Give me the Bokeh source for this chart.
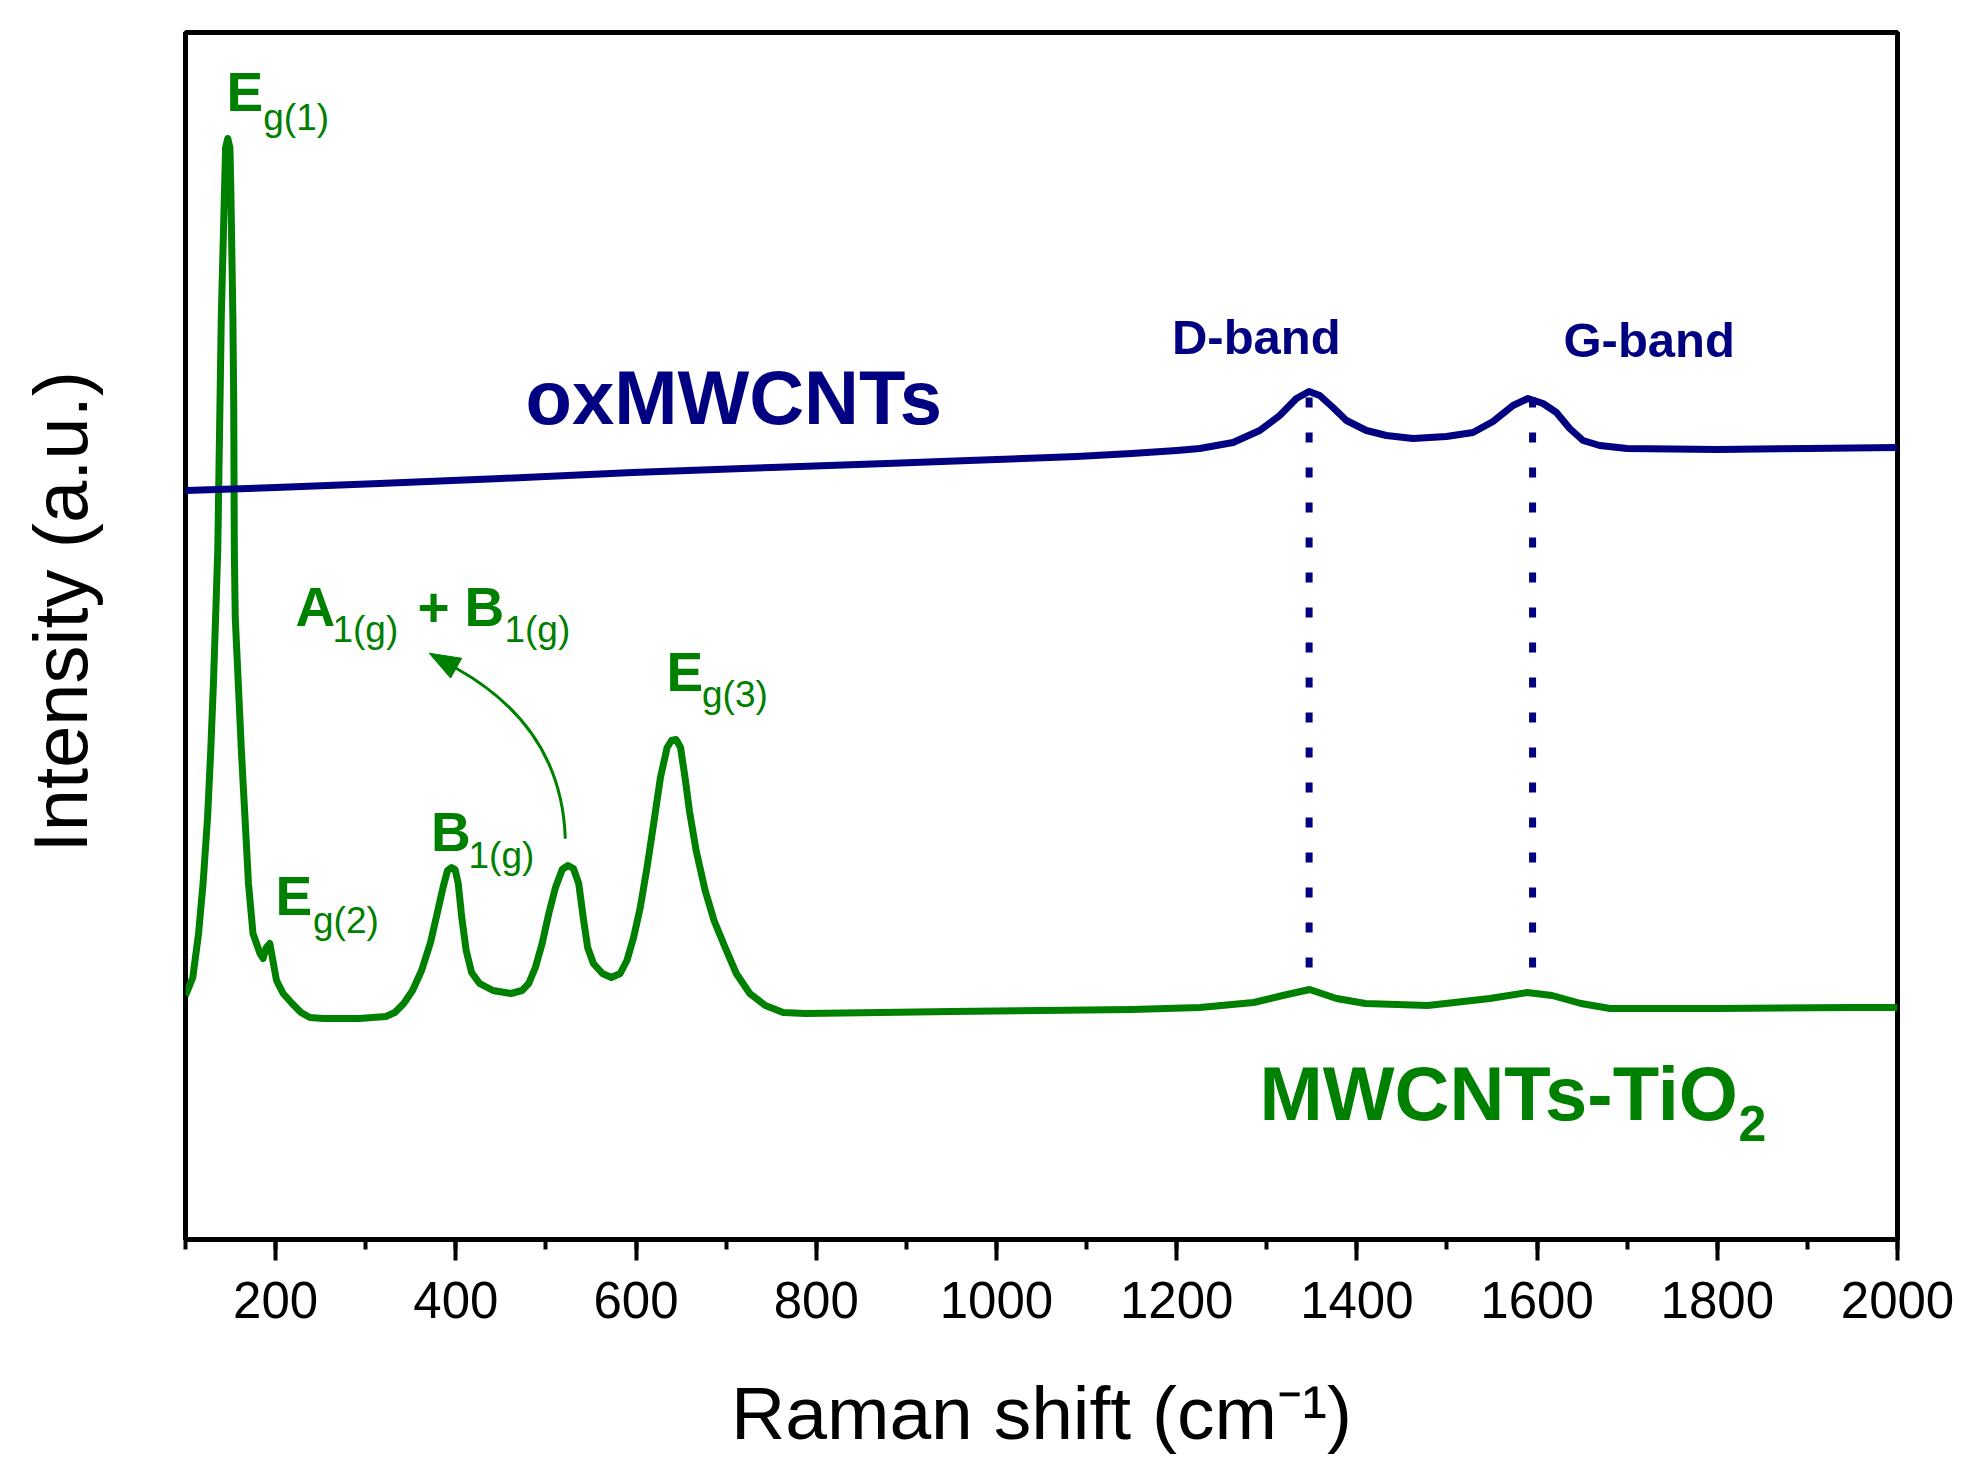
from bokeh.plotting import figure
from bokeh.models import Range1d, SingleIntervalTicker, FixedTicker
from bokeh.core.properties import value
from bokeh.embed import file_html
from bokeh.resources import INLINE

# ---------------- data ----------------
shift_tio2 = [100, 108.1, 114.5, 119.5, 124.5, 128, 131, 133.4, 135.8, 139.7, 143.5, 144.5,
              146.9, 149.3, 150.2, 152.6, 153.5, 154.2, 155.2, 158.6, 162, 166, 169.9,
              174.9, 182.7, 186.1, 189.6, 193.6, 197, 201, 208.4, 218.3, 228.2, 238.1,
              253, 292.7, 322.4, 332.3, 342.2, 352, 362, 371.9, 379.3, 385.8, 390.8,
              395.2, 399.2, 402.7, 406.6, 411.5, 417.5, 426.4, 441.3, 461.1, 473.5,
              480.9, 488.3, 495.8, 503.2, 510.6, 518.1, 524.5, 530.5, 536.4, 541.4,
              546.3, 552.7, 562.7, 572.6, 582.4, 589.9, 597.3, 604.7, 612.2, 619.6,
              627.1, 634.5, 639.4, 644.4, 649.4, 654.4, 659.2, 666.7, 676.7, 686.6,
              698.9, 711.3, 726.2, 743.5, 763.3, 788.1, 871.3, 950, 1050, 1150, 1225.6,
              1285.4, 1317.6, 1347.6, 1377.4, 1409.6, 1478.6, 1547.6, 1589, 1616.7,
              1648.8, 1681, 1800, 1946.8, 2000]
intensity_tio2 = [244, 262, 306, 356, 422, 489, 556, 622, 689, 922, 1056, 1092,
                  1101, 1092, 1056, 922, 839, 689, 622, 556, 489, 422, 356,
                  306, 286, 281, 292, 296, 279, 259, 246, 236, 227, 222,
                  221, 221, 223, 227, 236, 249, 269, 297, 326, 352, 369,
                  372, 370, 356, 322, 289, 267, 256, 249, 246, 249,
                  256, 272, 296, 326, 352, 370, 374, 371, 356, 322,
                  292, 276, 266, 262, 266, 279, 302, 332, 372, 416,
                  462, 492, 499, 500, 492, 462, 429, 389, 349, 319,
                  292, 266, 246, 234, 227, 226, 227, 228, 229, 230, 232,
                  237, 244, 250, 241, 236, 234, 241, 247, 244,
                  236, 231, 231, 232, 232]

shift_cnt = [100, 200, 315, 450, 596, 750, 878, 1000, 1089, 1150, 1200, 1225.6, 1262.6,
             1292.2, 1314.4, 1332.9, 1346.9, 1358.8, 1373.5, 1388.4, 1410.6, 1432.8,
             1462.3, 1499.4, 1528.9, 1551.1, 1573.3, 1589.9, 1606.6, 1621.5, 1636.2,
             1651, 1669.5, 1700, 1800, 1900, 2000]
intensity_cnt = [749, 752, 756, 761, 767, 772, 776, 780, 783, 786, 789, 791, 797,
                 809, 824, 841, 848, 844, 832, 819, 809, 804,
                 801, 803, 807, 818, 834, 841, 836, 827, 811,
                 799, 794, 791, 790, 791, 792]

band_positions = [1347, 1595]
band_top = [842, 842]
band_bottom = [268, 268]

# ---------------- annotation placement ----------------
GREEN = "#008000"
NAVY = "#000080"
FONT = "Liberation Sans"

mode_main = {"x": [145.5, 199.9, 372.5, 222.1, 409.6, 633.8],
             "y": [1148, 344, 408, 633, 633, 568],
             "text": ["E", "E", "B", "A", "B", "E"]}
mode_sub = {"x": [186.3, 241.5, 414.1, 263.1, 454, 673.2],
            "y": [1122, 319, 384, 610, 610, 545],
            "text": ["g(1)", "g(2)", "1(g)", "1(g)", "1(g)", "g(3)"]}
plus_sign = {"x": [357.5], "y": [633], "text": ["+"]}
arrow_curve = {"x0": [521.5], "y0": [400.7], "x1": [400.4], "y1": [571.3],
               "cx": [517.7], "cy": [512]}
arrow_head = {"x": [370.4, 394.2, 406.6], "y": [586.3, 561.4, 581.2]}

p = figure(frame_width=1712, frame_height=1207,
           x_range=Range1d(100, 2000), y_range=Range1d(0, 1207),
           output_backend="svg", toolbar_location=None,
           min_border_left=185, min_border_top=32, min_border_right=73,
           min_border_bottom=218)
p.background_fill_color = "white"
p.border_fill_color = "white"
p.outline_line_color = "black"
p.outline_line_width = 5
p.xgrid.visible = False
p.ygrid.visible = False

ax = p.xaxis[0]
ax.ticker = SingleIntervalTicker(interval=200, num_minor_ticks=2)
ax.axis_line_width = 5
ax.axis_line_color = "black"
ax.major_tick_line_width = 4
ax.major_tick_out = 21
ax.major_tick_in = 0
ax.minor_tick_line_width = 4
ax.minor_tick_out = 10
ax.minor_tick_in = 0
ax.major_label_text_font = FONT
ax.major_label_text_font_size = "51px"
ax.major_label_text_color = "black"
ax.major_label_standoff = 21
ax.axis_label = "Raman shift (cm\u207b\u00b9)"
ax.axis_label_text_font = FONT
ax.axis_label_text_font_size = "75px"
ax.axis_label_text_font_style = "normal"
ax.axis_label_text_color = "black"
ax.axis_label_standoff = 50

# y axis: no ticks, only the title (intensity in arbitrary units);
# the non-breaking spaces lift the centred title slightly, as in the original
ay = p.yaxis[0]
ay.ticker = FixedTicker(ticks=[])
ay.axis_line_color = None
ay.major_tick_out = 0
ay.major_tick_in = 0
ay.minor_tick_out = 0
ay.minor_tick_in = 0
ay.major_label_text_font_size = "0px"
ay.axis_label = "\u00a0\u00a0\u200aIntensity (a.u.)"
ay.axis_label_text_font = FONT
ay.axis_label_text_font_size = "76px"
ay.axis_label_text_font_style = "normal"
ay.axis_label_text_color = "black"
ay.axis_label_standoff = 83

# spectra
p.line(shift_tio2, intensity_tio2, line_color=GREEN, line_width=7, line_join="round")
p.line(shift_cnt, intensity_cnt, line_color=NAVY, line_width=7, line_join="round")

# dotted band markers
p.segment(x0=band_positions, y0=band_top, x1=band_positions, y1=band_bottom,
          line_color=NAVY, line_width=7, line_dash="10 25", line_cap="butt")

# mode labels
p.text(x=mode_main["x"], y=mode_main["y"], text=mode_main["text"], text_color=GREEN,
       text_font=value(FONT), text_font_size="55px", text_font_style="bold",
       text_align="left", text_baseline="alphabetic")
p.text(x=mode_sub["x"], y=mode_sub["y"], text=mode_sub["text"], text_color=GREEN,
       text_font=value(FONT), text_font_size="37px", text_font_style="normal",
       text_align="left", text_baseline="alphabetic")
p.text(x=plus_sign["x"], y=plus_sign["y"], text=plus_sign["text"], text_color=GREEN,
       text_font=value(FONT), text_font_size="55px", text_font_style="bold",
       text_align="left", text_baseline="alphabetic")

# sample labels
p.text(x=[477.3], y=[842], text=["oxMWCNTs"], text_color=NAVY,
       text_font=value(FONT), text_font_size="76px", text_font_style="bold",
       text_baseline="alphabetic")
p.text(x=[1291.9], y=[146.5], text=["MWCNTs-TiO"], text_color=GREEN,
       text_font=value(FONT), text_font_size="76px", text_font_style="bold",
       text_baseline="alphabetic")
p.text(x=[1823.6], y=[116], text=["2"], text_color=GREEN,
       text_font=value(FONT), text_font_size="50px", text_font_style="bold",
       text_baseline="alphabetic")
p.text(x=[1194.8, 1629.3], y=[902.5, 899.5], text=["D-band", "G-band"], text_color=NAVY,
       text_font=value(FONT), text_font_size="49px", text_font_style="bold",
       text_baseline="alphabetic")

# curved arrow
p.quadratic(x0=arrow_curve["x0"], y0=arrow_curve["y0"], x1=arrow_curve["x1"],
            y1=arrow_curve["y1"], cx=arrow_curve["cx"], cy=arrow_curve["cy"],
            line_color=GREEN, line_width=3)
p.patch(arrow_head["x"], arrow_head["y"], fill_color=GREEN, line_color=GREEN, line_width=1)

open("out.html", "w").write(file_html(p, INLINE))
